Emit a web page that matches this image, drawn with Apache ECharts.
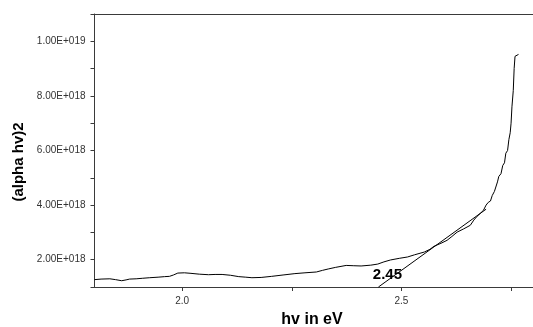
<!DOCTYPE html>
<html>
<head>
<meta charset="utf-8">
<script src="https://cdn.jsdelivr.net/npm/echarts@6/dist/echarts.min.js"></script>
<style>
html,body{margin:0;padding:0;background:#fff;}
#chart{width:533px;height:327px;}
</style>
</head>
<body>
<div id="chart"></div>
<script>
// photon energy (eV)
const hv = [1.800,1.815,1.835,1.848,1.862,1.872,1.880,1.895,1.910,1.926,1.945,1.960,1.971,1.980,1.990,2.005,2.020,2.039,2.060,2.075,2.091,2.110,2.129,2.145,2.159,2.180,2.204,2.230,2.257,2.280,2.306,2.320,2.333,2.350,2.374,2.390,2.408,2.430,2.446,2.460,2.475,2.495,2.514,2.530,2.552,2.565,2.574,2.590,2.604,2.615,2.627,2.642,2.657,2.665,2.672,2.680,2.687,2.693,2.698,2.703,2.707,2.712,2.716,2.719,2.722,2.727,2.731,2.735,2.738,2.742,2.745,2.748,2.750,2.752,2.755,2.757,2.759,2.763,2.767];
// (alpha hv)^2
const alphaHv2 = [1.27e18,1.29e18,1.30e18,1.27e18,1.23e18,1.26e18,1.29e18,1.30e18,1.32e18,1.34e18,1.36e18,1.38e18,1.39e18,1.44e18,1.51e18,1.52e18,1.50e18,1.47e18,1.45e18,1.46e18,1.46e18,1.43e18,1.38e18,1.36e18,1.34e18,1.35e18,1.39e18,1.44e18,1.49e18,1.52e18,1.55e18,1.61e18,1.66e18,1.72e18,1.79e18,1.78e18,1.77e18,1.80e18,1.84e18,1.92e18,1.99e18,2.05e18,2.10e18,2.18e18,2.28e18,2.38e18,2.49e18,2.60e18,2.71e18,2.85e18,3.01e18,3.13e18,3.26e18,3.45e18,3.58e18,3.70e18,3.81e18,4.00e18,4.10e18,4.15e18,4.35e18,4.50e18,4.55e18,4.85e18,5.05e18,5.15e18,5.45e18,5.55e18,5.90e18,6.00e18,6.40e18,6.65e18,7.00e18,7.60e18,8.20e18,9.00e18,9.45e18,9.48e18,9.52e18];
// tangent (band-gap extrapolation) line
const tangentX = [2.4475, 2.693];
const tangentY = [1.0e18, 3.85e18];
const gapLabel = '2.45';
// axis ticks / labels
const xTicks = [2.0, 2.25, 2.5, 2.75];
const xLabels = [2.0, 2.5];
const yLabels = [2e18, 4e18, 6e18, 8e18, 1e19];
const xName = 'hv in eV';
const yName = '(alpha hv)2';

function sci(v) {
  const ex = Math.floor(Math.log10(v) + 1e-9);
  const m = v / Math.pow(10, ex);
  return m.toFixed(2) + 'E+' + String(ex).padStart(3, '0');
}

const chart = echarts.init(document.getElementById('chart'), null, {renderer: 'canvas'});
const axisCol = '#3a3a3a';
const font = 'Liberation Sans, Arial, sans-serif';
const option = {
  backgroundColor: '#fff',
  animation: false,
  grid: {left: 94.5, top: 14, width: 442, height: 273, containLabel: false},
  xAxis: [{
    type: 'value', min: 1.8, max: 2.8, interval: 0.1,
    axisLine: {show: true, onZero: false, lineStyle: {color: axisCol, width: 1}},
    axisTick: {show: true, inside: false, length: 4, customValues: xTicks, lineStyle: {color: axisCol}},
    axisLabel: {show: true, customValues: xLabels, margin: 9, fontSize: 10, color: '#333',
      fontFamily: font, formatter: v => v.toFixed(1)},
    splitLine: {show: false}
  }, {
    type: 'value', position: 'top', min: 1.8, max: 2.8,
    axisLine: {show: true, onZero: false, lineStyle: {color: axisCol, width: 1}},
    axisTick: {show: false}, axisLabel: {show: false}, splitLine: {show: false}
  }],
  yAxis: [{
    type: 'value', min: 1e18, max: 1.1e19, interval: 1e18,
    axisLine: {show: true, onZero: false, lineStyle: {color: axisCol, width: 1}},
    axisTick: {show: true, inside: false, length: 4, lineStyle: {color: axisCol}},
    axisLabel: {show: true, customValues: yLabels, margin: 9, fontSize: 10, color: '#333',
      fontFamily: font, formatter: v => sci(v)},
    splitLine: {show: false}
  }],
  series: [{
    type: 'line',
    data: hv.map((x, i) => [x, alphaHv2[i]]),
    showSymbol: false, symbol: 'none',
    lineStyle: {color: '#000', width: 1},
    clip: true
  }, {
    type: 'line',
    data: tangentX.map((x, i) => [x, tangentY[i]]),
    showSymbol: false, symbol: 'none',
    lineStyle: {color: '#000', width: 1},
    clip: false,
    markPoint: {
      symbol: 'circle', symbolSize: 0.1,
      itemStyle: {color: 'rgba(0,0,0,0)'},
      data: [{
        coord: [tangentX[0], tangentY[0]],
        label: {show: true, formatter: gapLabel, position: 'top', distance: 5, offset: [9, 0],
          fontSize: 15, fontWeight: 'bold', color: '#000', fontFamily: font}
      }]
    }
  }],
  graphic: [{
    type: 'text', x: 19, y: 162, rotation: Math.PI / 2,
    style: {text: yName, fill: '#000', font: 'bold 15px "Liberation Sans", Arial, sans-serif', textAlign: 'center', textVerticalAlign: 'middle'}
  }, {
    type: 'text', x: 312, y: 320,
    style: {text: xName, fill: '#000', font: 'bold 16px "Liberation Sans", Arial, sans-serif', textAlign: 'center', textVerticalAlign: 'middle'}
  }]
};
chart.setOption(option);
</script>
</body>
</html>
